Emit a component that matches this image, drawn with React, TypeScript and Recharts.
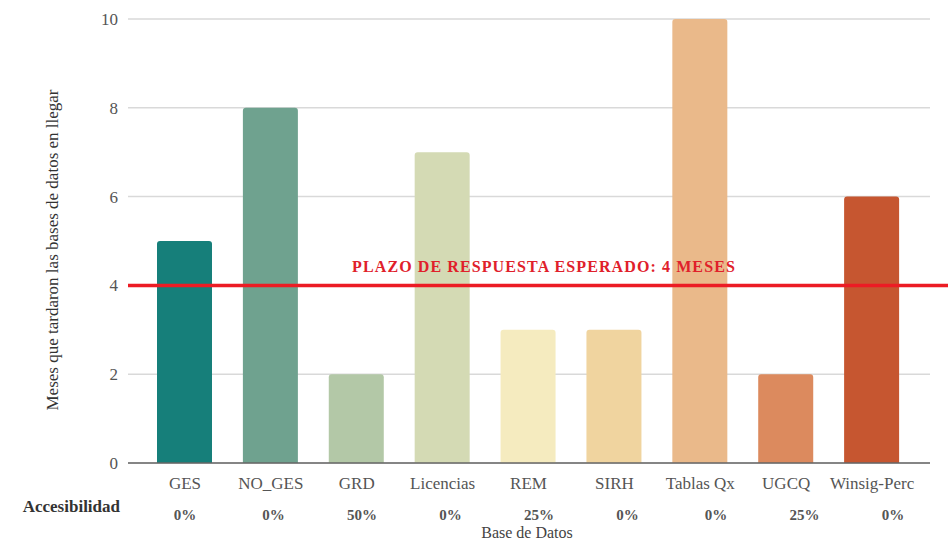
import React from "react";
import {
  BarChart,
  Bar,
  Cell,
  XAxis,
  YAxis,
  CartesianGrid,
  ReferenceLine,
  Label,
} from "recharts";

// bases de datos y meses de demora
const bases = ["GES", "NO_GES", "GRD", "Licencias", "REM", "SIRH", "Tablas Qx", "UGCQ", "Winsig-Perc"];
const meses = [5, 8, 2, 7, 3, 3, 10, 2, 6];
const accesibilidad = ["0%", "0%", "50%", "0%", "25%", "0%", "0%", "25%", "0%"];
const colores = ["#167f7a", "#6fa28f", "#b3c8a7", "#d4dab4", "#f5ebbf", "#f0d49f", "#eab98a", "#dc8a5e", "#c65630"];
const yTicks = [0, 2, 4, 6, 8, 10];
const plazoEsperado = 4;

const SERIF = '"Liberation Serif", "DejaVu Serif", serif';

const data = bases.map((name, i) => ({ name, meses: meses[i], acc: accesibilidad[i] }));
const accByName: Record<string, string> = Object.fromEntries(data.map((d) => [d.name, d.acc]));

// ticks con fuente serif
const NameTick = ({ x, y, payload }: any) => (
  <text x={x} y={y} dy="0.71em" textAnchor="middle" fill="#555" fontFamily={SERIF} fontSize={17}>
    {payload.value}
  </text>
);

const AccTick = ({ x, y, payload }: any) => (
  <text x={x} y={y} dy="0.71em" textAnchor="middle" fill="#555" fontFamily={SERIF} fontSize={15} fontWeight="bold">
    {accByName[payload.value]}
  </text>
);

const ValueTick = ({ x, y, payload }: any) => (
  <text x={x} y={y} dy="0.355em" textAnchor="end" fill="#555" fontFamily={SERIF} fontSize={17}>
    {payload.value}
  </text>
);

// línea del plazo: se prolonga hasta el borde derecho
const PlazoLine = (props: any) => (
  <line x1={props.x1} y1={props.y1} x2={props.x2 + 20} y2={props.y2} stroke="#ec1c24" strokeWidth={3.5} />
);

const PlazoLabel = ({ viewBox }: any) => (
  <text
    x={viewBox.x + viewBox.width / 2 + 15}
    y={viewBox.y - 13}
    textAnchor="middle"
    fill="#e0202a"
    fontFamily={SERIF}
    fontWeight="bold"
    fontSize={16}
    letterSpacing={1.1}
  >
    PLAZO DE RESPUESTA ESPERADO: 4 MESES
  </text>
);

const YTitle = ({ viewBox }: any) => {
  const cx = 52;
  const cy = viewBox.y + viewBox.height / 2 + 9;
  return (
    <text
      x={cx}
      y={cy}
      transform={`rotate(-90, ${cx}, ${cy})`}
      textAnchor="middle"
      dominantBaseline="central"
      fill="#333"
      fontFamily={SERIF}
      fontSize={17}
    >
      Meses que tardaron las bases de datos en llegar
    </text>
  );
};

const AccLabels = ({ viewBox }: any) => (
  <g fontFamily={SERIF}>
    <text x={120} y={viewBox.y + 19} textAnchor="end" fill="#333" fontWeight="bold" fontSize={17}>
      Accesibilidad
    </text>
    <text x={viewBox.x + viewBox.width / 2 - 2} y={viewBox.y + 45} textAnchor="middle" fill="#444" fontSize={16}>
      Base de Datos
    </text>
  </g>
);

export default function App() {
  return (
    <div style={{ position: "absolute", left: 0, top: 0, background: "#fff", fontFamily: SERIF }}>
      <BarChart
        width={948}
        height={542}
        data={data}
        margin={{ top: 19, right: 18, bottom: 0, left: 0 }}
      >
        <CartesianGrid vertical={false} stroke="#d9d9d9" strokeWidth={1.5} />
        <XAxis
          dataKey="name"
          height={30}
          padding={{ left: 14, right: 15 }}
          axisLine={{ stroke: "#666", strokeWidth: 1.5 }}
          tickLine={false}
          tickMargin={8}
          interval={0}
          tick={<NameTick />}
        />
        <XAxis
          xAxisId="acc"
          dataKey="name"
          height={49}
          scale="point"
          padding={{ left: 57, right: 37 }}
          axisLine={false}
          tickLine={false}
          tickMargin={10}
          interval={0}
          tick={<AccTick />}
        >
          <Label content={AccLabels} />
        </XAxis>
        <YAxis
          width={128}
          domain={[0, 10]}
          ticks={yTicks}
          axisLine={false}
          tickLine={false}
          tickMargin={4}
          tick={<ValueTick />}
        >
          <Label content={YTitle} />
        </YAxis>
        <Bar dataKey="meses" barSize={55} radius={[3, 3, 0, 0]} isAnimationActive={false}>
          {data.map((d, i) => (
            <Cell key={d.name} fill={colores[i]} />
          ))}
        </Bar>
        <ReferenceLine y={plazoEsperado} shape={PlazoLine} label={<PlazoLabel />} />
      </BarChart>
    </div>
  );
}
